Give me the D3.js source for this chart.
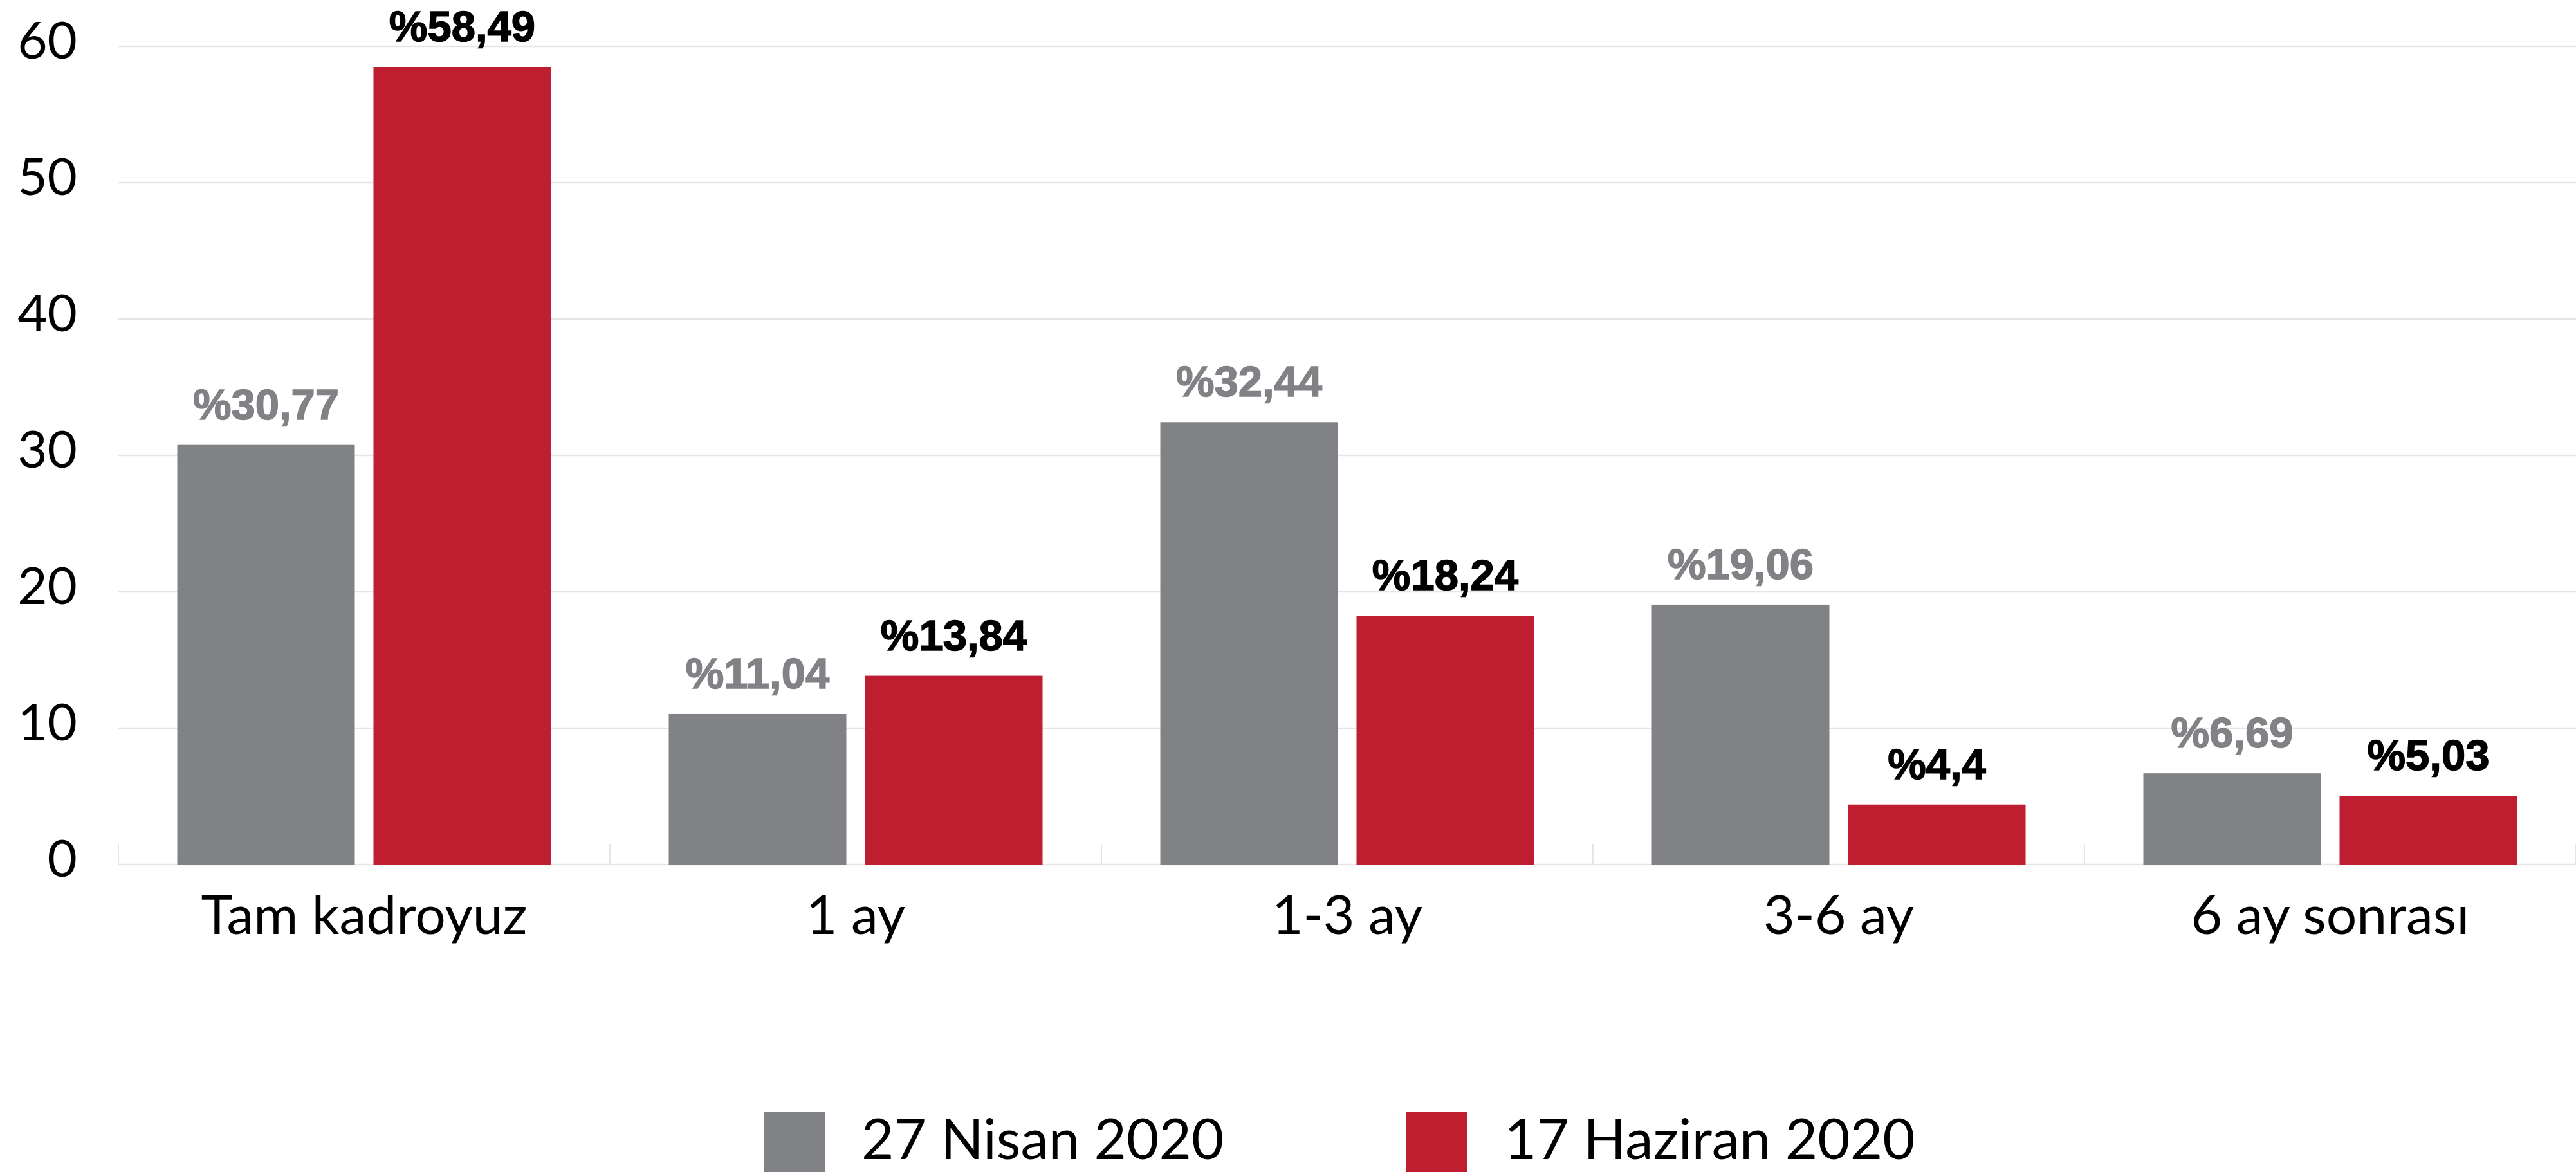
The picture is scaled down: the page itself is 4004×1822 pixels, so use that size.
<!DOCTYPE html>
<html>
<head>
<meta charset="utf-8">
<script src="https://cdn.jsdelivr.net/npm/d3@7"></script>
<style>
  body { margin: 0; background: #fff; }
  svg { display: block; }
</style>
</head>
<body>
<div class="chart"></div>
<script>
// data
var categories = ["Tam kadroyuz", "1 ay", "1-3 ay", "3-6 ay", "6 ay sonrası"];
var seriesNames = ["27 Nisan 2020", "17 Haziran 2020"];
var nisanValues = [30.77, 11.04, 32.44, 19.06, 6.69];
var haziranValues = [58.49, 13.84, 18.24, 4.4, 5.03];
var yTicks = [0, 10, 20, 30, 40, 50, 60];

var width = 4004;
var height = 1822;

var grayColor = '#818286'
var redColor = '#be1e2f'
var gridColor = '#e5e5e5'

var margin = { left: 184, right: 0, top: 72, bottom: 478 };

var svg = d3.select(".chart")
    .append("svg")
    .attr("width", width)
    .attr("height", height);

var x = d3.scaleBand()
    .domain(categories)
    .range([margin.left, width - margin.right])
    .paddingInner(0)
    .paddingOuter(0);

var xs = d3.scaleBand()
    .domain(seriesNames)
    .range([0, x.bandwidth()])
    .paddingInner(0.095)
    .paddingOuter(0.3);

var y = d3.scaleLinear()
    .domain([0, 60])
    .range([height - margin.bottom, margin.top]);

// gridlines
svg.append("g")
    .selectAll("line")
    .data(yTicks)
    .enter()
    .append("line")
    .attr("x1", margin.left)
    .attr("x2", width - margin.right)
    .attr("y1", function (d) { return y(d); })
    .attr("y2", function (d) { return y(d); })
    .style("stroke", gridColor)
    .style("stroke-width", 2.5);

// category boundary ticks
var bounds = categories.map(function (c) { return x(c); }).concat([x.range()[1]]);
svg.append("g")
    .selectAll("line")
    .data(bounds)
    .enter()
    .append("line")
    .attr("x1", function (d) { return d; })
    .attr("x2", function (d) { return d; })
    .attr("y1", y(0) - 32)
    .attr("y2", y(0))
    .style("stroke", gridColor)
    .style("stroke-width", 2);

// y tick labels
svg.append("g")
    .selectAll("text")
    .data(yTicks)
    .enter()
    .append("text")
    .attr("x", 120)
    .attr("y", function (d) { return y(d) + 19; })
    .attr("text-anchor", "end")
    .style("font-family", "Lato, 'Open Sans', sans-serif")
    .style("font-size", "80px")
    .style("fill", "#000")
    .text(function (d) { return d; });

// x category labels
svg.append("g")
    .selectAll("text")
    .data(categories)
    .enter()
    .append("text")
    .attr("x", function (d) { return x(d) + x.bandwidth() / 2; })
    .attr("y", y(0) + 108)
    .attr("text-anchor", "middle")
    .style("font-family", "Lato, 'Open Sans', sans-serif")
    .style("font-size", "84px")
    .style("fill", "#000")
    .text(function (d) { return d; });

var series = [
    { name: seriesNames[0], values: nisanValues, color: grayColor, labelColor: grayColor },
    { name: seriesNames[1], values: haziranValues, color: redColor, labelColor: "#000" }
];

function fmt(v) {
    return "%" + String(v).replace(".", ",");
}

series.forEach(function (s) {
    var g = svg.append("g");
    g.selectAll("rect")
        .data(categories)
        .enter()
        .append("rect")
        .attr("x", function (d) { return x(d) + xs(s.name); })
        .attr("width", xs.bandwidth())
        .attr("y", function (d, i) { return y(s.values[i]); })
        .attr("height", function (d, i) { return y(0) - y(s.values[i]); })
        .style("fill", s.color);

    g.selectAll("text")
        .data(categories)
        .enter()
        .append("text")
        .attr("x", function (d) { return x(d) + xs(s.name) + xs.bandwidth() / 2; })
        .attr("y", function (d, i) { return y(s.values[i]) - 40; })
        .attr("text-anchor", "middle")
        .style("font-family", "'Liberation Sans', Arial, sans-serif")
        .style("font-weight", "bold")
        .style("font-size", "67px")
        .style("stroke", s.labelColor)
        .style("stroke-width", 1.5)
        .style("fill", s.labelColor)
        .text(function (d, i) { return fmt(s.values[i]); });
});

// legend
var legendX = [1187, 2186];
var legend = svg.append("g")
    .selectAll("g")
    .data(series)
    .enter()
    .append("g")
    .attr("transform", function (d, i) { return "translate(" + legendX[i] + ",0)"; });

legend.append("rect")
    .attr("x", 0)
    .attr("y", 1729)
    .attr("width", 95)
    .attr("height", 93)
    .style("fill", function (d) { return d.color; });

legend.append("text")
    .attr("x", 152)
    .attr("y", 1802)
    .style("font-family", "Lato, 'Open Sans', sans-serif")
    .style("font-size", "87px")
    .style("fill", "#000")
    .text(function (d) { return d.name; });
</script>
</body>
</html>
